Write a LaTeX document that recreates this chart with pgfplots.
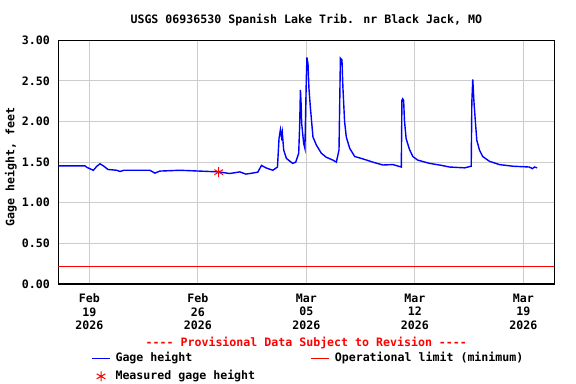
\documentclass[border=0pt]{standalone}
\usepackage{pgfplots}
\pgfplotsset{compat=1.18}
\usepackage{fontspec}
\setmainfont{DejaVu Sans Mono}
\definecolor{gridgray}{RGB}{204,204,204}
\definecolor{usgsblue}{RGB}{0,0,255}
\definecolor{usgsred}{RGB}{255,0,0}
\pgfplotsset{
  linelegend/.style={legend image code/.code={\draw[##1, line width=1bp] (0bp,0bp) -- (18bp,0bp);}},
  starlegend/.style={legend image code/.code={\draw[##1] plot coordinates {(9bp,0bp)};}},
}
\begin{document}
\begin{tikzpicture}[font=\fontsize{11.6bp}{13.5bp}\selectfont\bfseries]
\useasboundingbox (0,0) rectangle (576bp,384bp);
\begin{axis}[
  at={(58.3bp,100bp)}, anchor=south west,
  scale only axis, width=496bp, height=243.7bp,
  xmin=0, xmax=32, ymin=0, ymax=3,
  clip mode=individual,
  xtick={2,9,16,23,30},
  xticklabels={{Feb\\19\\2026},{Feb\\26\\2026},{Mar\\05\\2026},{Mar\\12\\2026},{Mar\\19\\2026}},
  ytick={0,0.5,1,1.5,2,2.5,3},
  yticklabels={0.00,0.50,1.00,1.50,2.00,2.50,3.00},
  grid=major, major grid style={gridgray, line width=1bp},
  major tick length=0pt,
  axis line style={black, line width=1.2bp},
  xticklabel style={align=center, inner sep=0pt, anchor=north, yshift=-9.7bp},
  yticklabel style={anchor=east, inner sep=0pt, xshift=-8.3bp},
  title={USGS 06936530 Spanish Lake Trib. nr Black Jack, MO},
  title style={anchor=base, at={(axis description cs:0.5,1)}, yshift=11bp, inner sep=0pt},
  ylabel={Gage height, feet},
  ylabel style={at={(axis description cs:-0.0954,0.48)}, anchor=center, inner sep=0pt},
  legend columns=2,
  legend cell align=left,
  legend style={draw=none, fill=none, at={(axis description cs:0.067,-0.28)}, anchor=north west,
    inner sep=0pt, outer sep=0pt, column sep=5bp, row sep=6.1bp,
    nodes={inner sep=0pt, text height=9bp, text depth=3bp}},
]
\addplot[usgsblue, line width=1.4bp, linelegend] coordinates {
(0,1.455) (1.72,1.455) (1.85,1.435) (2.26,1.40) (2.49,1.45) (2.69,1.48) (2.94,1.45) (3.20,1.41)
(3.78,1.40) (3.98,1.385) (4.23,1.40) (5.91,1.40) (6.23,1.365) (6.55,1.39) (7.84,1.40) (9.13,1.39)
(10.35,1.38) (11.06,1.36) (11.71,1.38) (12.10,1.353) (12.36,1.36) (12.87,1.377) (13.11,1.46)
(13.39,1.43) (13.84,1.40) (14.14,1.44) (14.24,1.79) (14.33,1.90) (14.40,1.81) (14.45,1.87)
(14.54,1.65) (14.72,1.545) (15.12,1.485) (15.32,1.50) (15.51,1.61) (15.57,1.935) (15.62,2.39)
(15.67,2.20) (15.70,1.98) (15.83,1.73) (15.91,1.67) (16.00,2.51) (16.04,2.79) (16.11,2.71)
(16.17,2.41) (16.26,2.18) (16.43,1.81) (16.65,1.71) (16.97,1.61) (17.29,1.56) (17.72,1.525)
(17.94,1.50) (18.11,1.65) (18.20,2.78) (18.30,2.76) (18.36,2.43) (18.47,2.00) (18.58,1.81)
(18.80,1.67) (19.12,1.57) (19.65,1.54) (20.30,1.50) (20.94,1.465) (21.59,1.47) (22.13,1.44)
(22.17,2.26) (22.22,2.28) (22.28,2.26) (22.33,2.02) (22.44,1.79) (22.65,1.66) (22.87,1.57)
(23.19,1.525) (23.95,1.485) (24.59,1.465) (25.24,1.44) (26.21,1.43) (26.64,1.45) (26.68,2.24)
(26.74,2.52) (26.81,2.26) (26.90,2.02) (27.00,1.77) (27.17,1.65) (27.38,1.57) (27.82,1.51)
(28.46,1.47) (29.32,1.45) (30.39,1.44) (30.59,1.42) (30.72,1.44) (30.89,1.43)
};
\addlegendentry{\makebox[190.3bp][l]{Gage height}}
\addplot[usgsred, line width=1bp, linelegend] coordinates {(0,0.21) (32,0.21)};
\addlegendentry{Operational limit (minimum)}
\addplot[usgsred, only marks, mark=asterisk, mark size=5bp, line width=1bp, starlegend] coordinates {(10.35,1.377)};
\addlegendentry{Measured gage height}
\node[usgsred, anchor=center, inner sep=0pt] at (axis description cs:0.5,-0.243) {{-}{-}{-}{-} Provisional Data Subject to Revision {-}{-}{-}{-}};
\end{axis}
\end{tikzpicture}
\end{document}
